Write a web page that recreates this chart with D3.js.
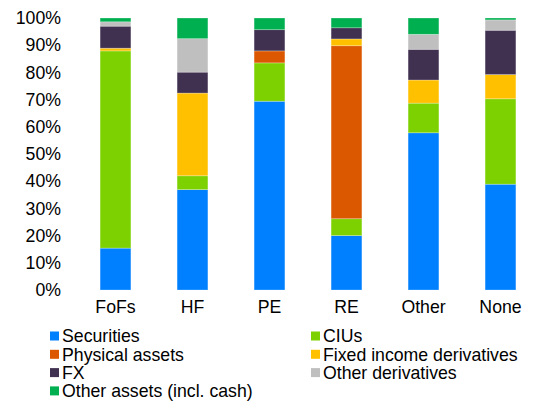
<!DOCTYPE html>
<html>
<head>
<meta charset="utf-8">
<script src="https://cdn.jsdelivr.net/npm/d3@7"></script>
<style>
body { margin: 0; background: #fff; }
text { font-family: "Liberation Sans", Arial, sans-serif; fill: #000; }
</style>
</head>
<body>
<div id="chart"></div>
<script>
// fund types along x
var categories = ["FoFs", "HF", "PE", "RE", "Other", "None"];
var seriesNames = ["Securities", "CIUs", "Physical assets", "Fixed income derivatives",
                   "FX", "Other derivatives", "Other assets (incl. cash)"];
var seriesColors = ["#0080ff", "#7ed100", "#db5800", "#ffc000", "#403151", "#bfbfbf", "#00b050"];

// shares in %, one array per series, in category order
var securities   = [15.4, 36.9, 69.4, 20.0, 57.8, 38.9];
var cius         = [72.5,  5.1, 14.1,  6.2, 10.9, 31.4];
var physical     = [ 0.0,  0.0,  4.4, 63.6,  0.0,  0.0];
var fixedIncome  = [ 1.0, 30.4,  0.0,  2.5,  8.5,  8.9];
var fx           = [ 8.1,  7.7,  7.8,  4.1, 11.3, 16.3];
var otherDeriv   = [ 1.6, 12.3,  0.0,  0.0,  5.5,  3.8];
var otherAssets  = [ 1.4,  7.6,  4.3,  3.6,  6.0,  0.7];
var yTicks = [0, 10, 20, 30, 40, 50, 60, 70, 80, 90, 100];

var seriesValues = [securities, cius, physical, fixedIncome, fx, otherDeriv, otherAssets];

var width = 547, height = 402;
var fontSize = "17.7px";
var svg = d3.select("#chart").append("svg")
  .attr("width", width)
  .attr("height", height);

var table = categories.map(function (c, i) {
  var row = { cat: c };
  seriesNames.forEach(function (s, j) { row[s] = seriesValues[j][i]; });
  return row;
});

var stacked = d3.stack().keys(seriesNames)(table);

var x = d3.scaleBand().domain(categories).range([77, 539]).paddingInner(0.6).paddingOuter(0.3);
var y = d3.scaleLinear().domain([0, 100]).range([290, 18]);

var layers = svg.append("g").selectAll("g")
  .data(stacked)
  .enter().append("g")
  .style("fill", function (d, i) { return seriesColors[i]; });

layers.selectAll("rect")
  .data(function (d) { return d.filter(function (p) { return p[1] - p[0] > 0; }); })
  .enter().append("rect")
  .attr("x", function (d) { return x(d.data.cat); })
  .attr("y", function (d) { return y(d[1]); })
  .attr("width", x.bandwidth())
  .attr("height", function (d) { return y(d[0]) - y(d[1]); })
  .attr("stroke", "rgba(255,255,255,0.35)")
  .attr("stroke-width", 0.75);

// y axis, labels only
var yAxis = svg.append("g")
  .attr("transform", "translate(61,0)")
  .call(d3.axisLeft(y).tickValues(yTicks).tickSize(0).tickPadding(0)
    .tickFormat(function (d) { return d + "%"; }));
yAxis.select(".domain").remove();
yAxis.selectAll("text").style("font-size", fontSize).attr("font-family", null);

// x axis, labels only
var xAxis = svg.append("g")
  .attr("transform", "translate(0,300)")
  .call(d3.axisBottom(x).tickSize(0).tickPadding(0));
xAxis.select(".domain").remove();
xAxis.selectAll("text").style("font-size", fontSize).attr("font-family", null);

// legend, two columns
var legend = svg.append("g");
var item = legend.selectAll("g")
  .data(seriesNames)
  .enter().append("g")
  .attr("transform", function (d, i) {
    var col = i % 2, row = Math.floor(i / 2);
    return "translate(" + (col === 0 ? 50 : 311) + "," + (336 + row * 18.3) + ")";
  });
item.append("rect")
  .attr("x", 0).attr("y", -4.5)
  .attr("width", 9).attr("height", 9)
  .style("fill", function (d, i) { return seriesColors[i]; });
item.append("text")
  .attr("x", 12)
  .attr("dy", "0.35em")
  .style("font-size", fontSize)
  .text(function (d) { return d; });
</script>
</body>
</html>
